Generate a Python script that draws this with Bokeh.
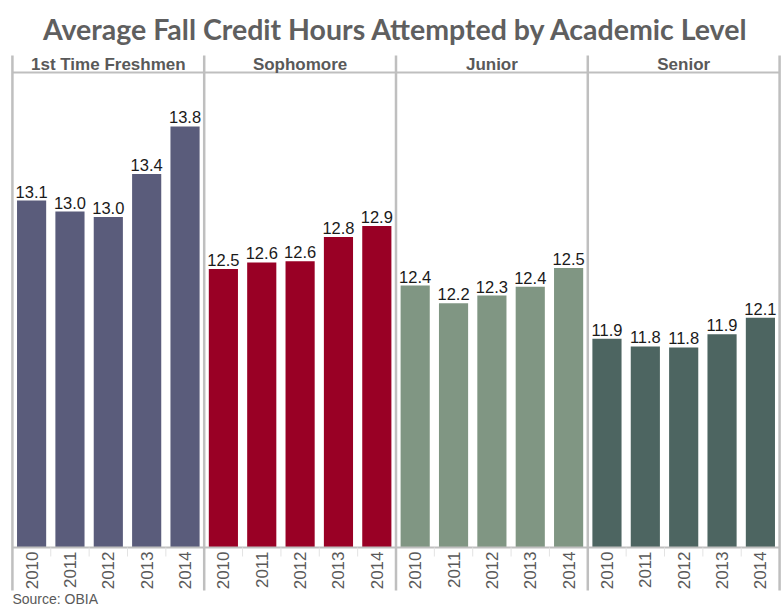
import math
from bokeh.plotting import figure
from bokeh.models import Range1d, ColumnDataSource
from bokeh.core.properties import value
from bokeh.embed import file_html
from bokeh.resources import INLINE

# ---------------- data ----------------
chart_title = "Average Fall Credit Hours Attempted by Academic Level"
levels = ["1st Time Freshmen", "Sophomore", "Junior", "Senior"]
years = ["2010", "2011", "2012", "2013", "2014"]
freshmen = [13.14, 13.04, 12.99, 13.38, 13.81]
sophomore = [12.52, 12.58, 12.59, 12.81, 12.91]
junior = [12.37, 12.21, 12.28, 12.36, 12.53]
senior = [11.89, 11.82, 11.81, 11.93, 12.08]
level_colors = ["#5a5c7b", "#990025", "#809683", "#4d6561"]
source_note = "Source: OBIA"

series = [freshmen, sophomore, junior, senior]

# ---------------- layout constants ----------------
W, H = 781, 607
TOP = 54            # frame top (px)
BASE = 10.0         # value at which bars start
PPU = 110.5         # pixels per credit hour
BASE_PX = 547       # px row of the baseline
GRAY = "#bfbfbf"
TEXT_GRAY = "#595959"
FONT = value("Liberation Sans")


def yp(px):
    """pixel row -> data value"""
    return BASE + (BASE_PX - px) / PPU


n_years = len(years)
n_levels = len(levels)

xs, tops, cols, labels, yr_labels = [], [], [], [], []
for gi, vals in enumerate(series):
    for yi, v in enumerate(vals):
        xs.append(gi * n_years + yi + 0.5)
        tops.append(v)
        cols.append(level_colors[gi])
        labels.append(f"{v:.1f}")
        yr_labels.append(years[yi])

src = ColumnDataSource(dict(x=xs, top=tops, color=cols, label=labels, year=yr_labels))

total = n_levels * n_years
p = figure(width=W, height=H, output_backend="svg", toolbar_location=None,
           x_range=Range1d(-0.05, total + 0.05),
           y_range=Range1d(yp(H), yp(TOP)),
           x_axis_location=None, y_axis_location=None,
           min_border_left=10, min_border_right=0, min_border_bottom=0,
           min_border_top=TOP, outline_line_color=None,
           background_fill_color="white", border_fill_color="white")
p.grid.visible = False

p.title.text = chart_title
p.title.align = "center"
p.title.text_font = "Lato"
p.title.text_font_style = "bold"
p.title.text_font_size = "28.5px"
p.title.text_color = "#5f5f5f"
p.title.standoff = 18

# bars
p.vbar(x="x", top="top", bottom=BASE, width=0.76, source=src,
       fill_color="color", line_color=None)

# value labels
p.text(x="x", y="top", text="label", source=src, text_align="center",
       text_baseline="bottom", y_offset=-3, text_font=FONT,
       text_font_size="16.5px", text_color="#1a1a1a")

# year labels (vertical)
p.text(x="x", y=BASE, text="year", source=src, angle=math.pi / 2,
       text_align="right", text_baseline="middle", y_offset=4,
       text_font=FONT, text_font_size="17px", text_color=TEXT_GRAY)

# baseline and header line
p.segment(x0=[0], x1=[total], y0=[BASE], y1=[BASE], line_color=GRAY, line_width=2)
p.segment(x0=[0], x1=[total], y0=[yp(72)], y1=[yp(72)], line_color=GRAY, line_width=2)

# faint year separators in axis area
minor = [i for i in range(total + 1) if i % n_years != 0]
p.segment(x0=minor, x1=minor, y0=[BASE] * len(minor), y1=[yp(BASE_PX + 9)] * len(minor),
          line_color="#e3e3e3", line_width=1)

# panel separators
seps = [i * n_years for i in range(n_levels + 1)]
p.segment(x0=seps, x1=seps, y0=[yp(590)] * len(seps), y1=[yp(55)] * len(seps),
          line_color=GRAY, line_width=2.5)

# panel headers
p.text(x=[gi * n_years + n_years / 2 for gi in range(n_levels)], y=[yp(64)] * n_levels,
       text=levels, text_align="center", text_baseline="middle", text_font=FONT,
       text_font_style="bold", text_font_size="17px", text_color=TEXT_GRAY)

# source note
p.text(x=[0], y=[yp(606)], text=[source_note], text_align="left",
       text_baseline="bottom", text_font=FONT, text_font_size="14px",
       text_color=TEXT_GRAY)

open("out.html", "w").write(file_html(p, INLINE))
